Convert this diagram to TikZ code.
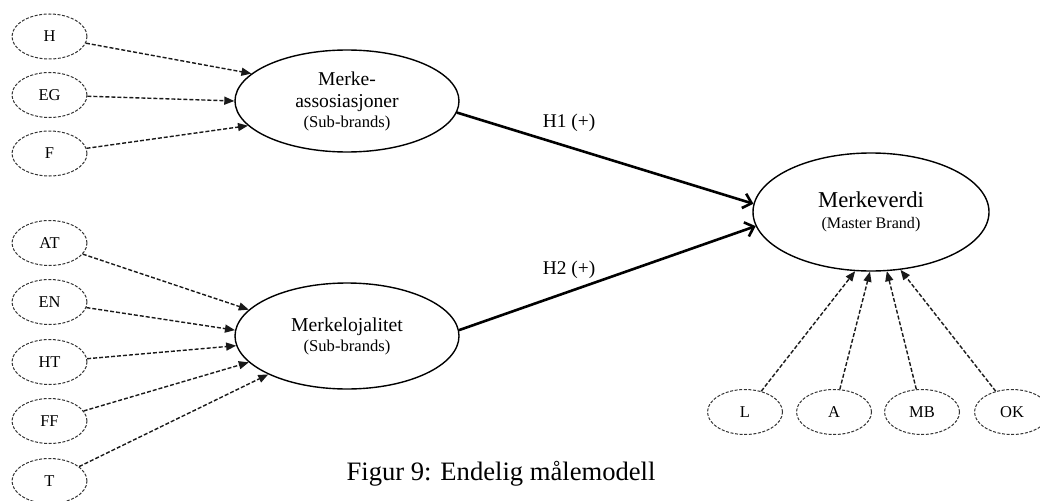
\documentclass[tikz,border=0pt]{standalone}
\usepackage{fontspec}
\setmainfont{Liberation Serif}
\usetikzlibrary{arrows.meta,shapes.geometric}
\newcommand\setfs[2]{\fontsize{#1}{#2}\selectfont}

\begin{document}
\begin{tikzpicture}[x=1pt,y=-1pt,
  indicator/.style={ellipse,draw=black!80,dash pattern=on 3pt off 1.6pt,
    line width=1pt,minimum width=75pt,minimum height=45pt,inner sep=0pt,
    font=\setfs{16.5}{18}},
  construct/.style={ellipse,draw,line width=1.4pt,inner sep=0pt,align=center},
  load/.style={-{Triangle[length=10pt,width=8pt]},black!90,
    dash pattern=on 4pt off 2pt,line width=1.4pt},
  hyp/.style={-{Straight Barb[length=8pt,width=15pt]},line width=2.6pt},
  hlabel/.style={anchor=base,font=\setfs{19.4}{22}}
]
\useasboundingbox (0,0) rectangle (1040,500);

% latent constructs
\node[construct,minimum width=224pt,minimum height=102pt,font=\setfs{19.6}{22}] (MA) at (347,101)
  {Merke-\\assosiasjoner\\[-2pt]{\setfs{16.6}{20}(Sub-brands)}};
\node[construct,minimum width=224pt,minimum height=106pt,font=\setfs{19.7}{20}] (MJ) at (347,336)
  {Merkelojalitet\\{\setfs{16.6}{20}(Sub-brands)}};
\node[construct,minimum width=236pt,minimum height=118pt,font=\setfs{22.7}{21}] (MV) at (871,212)
  {Merkeverdi\\{\setfs{16.1}{21}(Master Brand)}};

% indicators of Merke-assosiasjoner
\node[indicator] (H)  at (49.5,36.5) {H};
\node[indicator] (EG) at (49.5,95)   {EG};
\node[indicator] (F)  at (49.5,153.5) {F};

% indicators of Merkelojalitet
\node[indicator] (AT) at (49.5,243) {AT};
\node[indicator] (EN) at (49.5,302) {EN};
\node[indicator] (HT) at (49.5,362) {HT};
\node[indicator] (FF) at (49.5,421) {FF};
\node[indicator] (T)  at (49.5,481) {T};

% indicators of Merkeverdi
\node[indicator] (L)  at (745,412)  {L};
\node[indicator] (A)  at (834,412)  {A};
\node[indicator] (MB) at (922,412)  {MB};
\node[indicator] (OK) at (1012,412) {OK};

% measurement arrows
\draw[load] (H)  -- (MA.164);
\draw[load] (EG) -- (MA.west);
\draw[load] (F)  -- (MA.194);

\draw[load] (AT) -- (MJ.165);
\draw[load] (EN) -- (MJ.177);
\draw[load] (HT) -- (MJ.185.5);
\draw[load] (FF) -- (MJ.195);
\draw[load] (T)  -- (MJ.206);

\draw[load] (L)  -- (MV.255);
\draw[load] (A)  -- (MV.269);
\draw[load] (MB) -- (MV.285);
\draw[load] (OK) -- (MV.297);

% structural paths
\draw[hyp] (MA.-6) -- (MV.176.5);
\draw[hyp] (MJ.3)  -- (MV.187.5);
\node[hlabel] (h1) at (569,127) {H1 (+)};
\node[hlabel] (h2) at (569,274) {H2 (+)};

% caption
\node[anchor=base,font=\setfs{26.6}{30}] (cap) at (501,480) {Figur 9: Endelig målemodell};
\end{tikzpicture}
\end{document}
